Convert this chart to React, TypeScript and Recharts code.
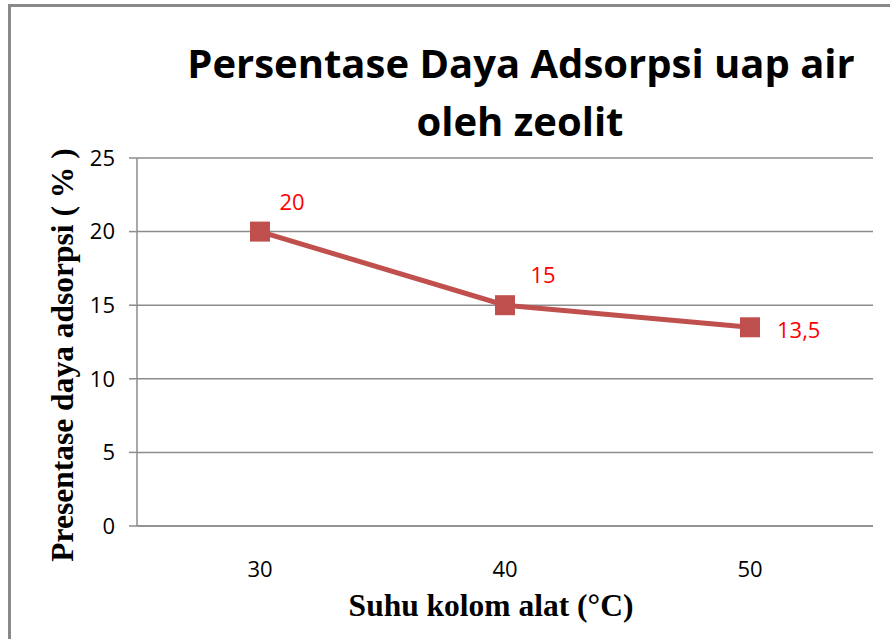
import { CartesianGrid, LabelList, Line, LineChart, XAxis, YAxis } from "recharts"

const suhu = ["30", "40", "50"]
const dayaAdsorpsi = [20, 15, 13.5]
const labelTeks = ["20", "15", "13,5"]
const yTicks = [0, 5, 10, 15, 20, 25]

const data = suhu.map((s, i) => ({ suhu: s, daya: dayaAdsorpsi[i], label: labelTeks[i] }))

const SquareDot = (props: any) => {
  const { cx, cy } = props
  if (cx == null || cy == null) return null
  return <rect x={cx - 10} y={cy - 10} width={20} height={20} fill="#C0504D" />
}

const PointLabel = (props: any) => {
  const { x, y, index } = props
  const last = index === data.length - 1
  return (
    <text
      x={last ? x + 27 : x + 32 + (index === 1 ? 6 : 0)}
      y={last ? y + 2 : y - 31}
      fill="#FF0000"
      fontSize={22}
      fontFamily="'Open Sans', sans-serif"
      textAnchor={last ? "start" : "middle"}
      dominantBaseline="central"
    >
      {labelTeks[index]}
    </text>
  )
}

export default function App() {
  return (
    <div style={{ position: "absolute", left: 0, top: 0, width: 890, height: 639, background: "#fff", overflow: "hidden" }}>
      <div
        style={{
          position: "absolute",
          left: 8,
          top: 4,
          width: 900,
          height: 700,
          borderLeft: "3px solid #898989",
          borderTop: "3px solid #898989",
        }}
      />
      <LineChart
        width={890}
        height={639}
        data={data}
        margin={{ top: 158, right: 17, bottom: 83, left: 97 }}
        style={{ position: "absolute", left: 0, top: 0 }}
      >
        <text x={521} y={62} textAnchor="middle" dominantBaseline="central" fontFamily="'Open Sans', sans-serif" fontWeight="bold" fontSize={40} fill="#000">
          Persentase Daya Adsorpsi uap air
        </text>
        <text x={520} y={120} textAnchor="middle" dominantBaseline="central" fontFamily="'Open Sans', sans-serif" fontWeight="bold" fontSize={40} fill="#000">
          oleh zeolit
        </text>
        <text
          x={62}
          y={355}
          transform="rotate(-90 62 355)"
          textAnchor="middle"
          dominantBaseline="central"
          fontFamily="'Liberation Serif', 'Times New Roman', serif"
          fontWeight="bold"
          fontSize={31.5}
          fill="#000"
        >
          Presentase daya adsorpsi ( % )
        </text>
        <text
          x={491}
          y={605}
          textAnchor="middle"
          dominantBaseline="central"
          fontFamily="'Liberation Serif', 'Times New Roman', serif"
          fontWeight="bold"
          fontSize={31.5}
          fill="#000"
        >
          Suhu kolom alat (°C)
        </text>
        <CartesianGrid vertical={false} stroke="#8c8c8c" strokeWidth={1.5} />
        <XAxis
          dataKey="suhu"
          height={30}
          padding={{ left: 123, right: 123 }}
          tickLine={false}
          axisLine={{ stroke: "#8c8c8c", strokeWidth: 1.5 }}
          tick={{ fill: "#000", fontSize: 22, fontFamily: "'Open Sans', sans-serif" }}
          tickMargin={29}
        />
        <YAxis
          type="number"
          domain={[0, 25]}
          ticks={yTicks}
          width={40}
          tickSize={8}
          axisLine={{ stroke: "#8c8c8c", strokeWidth: 1.5 }}
          tickLine={{ stroke: "#8c8c8c", strokeWidth: 1.5 }}
          tick={{ fill: "#000", fontSize: 22, fontFamily: "'Open Sans', sans-serif" }}
          tickMargin={14}
        />
        <Line
          type="linear"
          dataKey="daya"
          stroke="#C0504D"
          strokeWidth={5}
          dot={<SquareDot />}
          activeDot={false}
          isAnimationActive={false}
        >
          <LabelList dataKey="label" content={<PointLabel />} />
        </Line>
      </LineChart>
    </div>
  )
}
